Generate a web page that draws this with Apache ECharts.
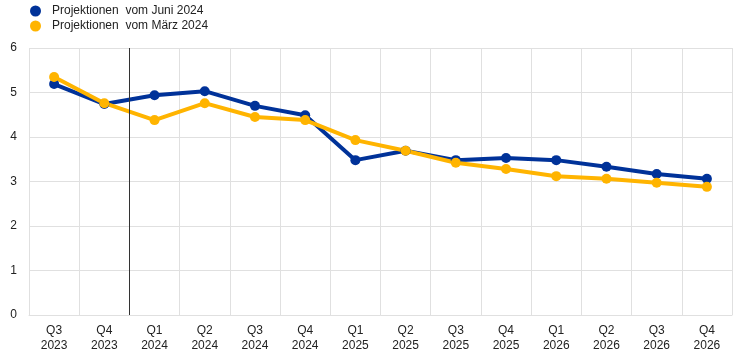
<!DOCTYPE html>
<html><head><meta charset="utf-8">
<script src="https://cdn.jsdelivr.net/npm/echarts@6/dist/echarts.min.js"></script>
<style>html,body{margin:0;padding:0;background:#fff}#c{width:743px;height:356px}</style>
</head><body><div id="c"></div>
<script>
const categories = ['Q3\n2023','Q4\n2023','Q1\n2024','Q2\n2024','Q3\n2024','Q4\n2024','Q1\n2025','Q2\n2025','Q3\n2025','Q4\n2025','Q1\n2026','Q2\n2026','Q3\n2026','Q4\n2026'];
const juni = [5.19,4.74,4.94,5.03,4.70,4.49,3.48,3.69,3.48,3.53,3.48,3.33,3.17,3.06];
const maerz = [5.35,4.76,4.38,4.76,4.45,4.38,3.93,3.69,3.42,3.28,3.12,3.06,2.97,2.88];
const seriesNames = ['Projektionen  vom Juni 2024','Projektionen  vom März 2024'];
const separatorAfter = 2; // boundary between Q4 2023 and Q1 2024

const chart = echarts.init(document.getElementById('c'));
const font = 'Liberation Sans, Arial, sans-serif';
chart.setOption({
  animation:false,
  textStyle:{fontFamily:font},
  legend:{orient:'vertical',left:25,top:0,itemWidth:11,itemHeight:11,itemGap:3,icon:'circle',
    textStyle:{fontSize:12,color:'#222',fontFamily:font,padding:[0,0,0,6]},
    data:seriesNames},
  grid:{left:29,right:11,top:48,bottom:41,containLabel:false},
  xAxis:[{type:'category',data:categories,boundaryGap:true,
    axisLine:{lineStyle:{color:'#e0e0e0'}},axisTick:{show:false},
    axisLabel:{color:'#222',fontSize:12,lineHeight:15,margin:8,fontFamily:font,interval:0},
    splitLine:{show:true,interval:0,lineStyle:{color:'#e0e0e0',width:1}}},
    {type:'value',min:0,max:categories.length,show:false}],
  yAxis:{type:'value',min:0,max:6,interval:1,
    axisLine:{show:false},axisTick:{show:false},
    axisLabel:{color:'#222',fontSize:12,margin:12,fontFamily:font},
    splitLine:{lineStyle:{color:'#e0e0e0',width:1}}},
  series:[
    {name:seriesNames[0],type:'line',data:juni,symbol:'circle',symbolSize:10,
      lineStyle:{width:4,color:'#003299'},itemStyle:{color:'#003299'}},
    {name:seriesNames[1],type:'line',data:maerz,symbol:'circle',symbolSize:10,
      lineStyle:{width:4,color:'#FFB400'},itemStyle:{color:'#FFB400'}},
    {type:'line',xAxisIndex:1,data:[],
      markLine:{silent:true,symbol:['none','none'],label:{show:false},
        lineStyle:{color:'#333',width:1,type:'solid'},
        data:[{xAxis:separatorAfter}]}}
  ]
});
</script></body></html>
